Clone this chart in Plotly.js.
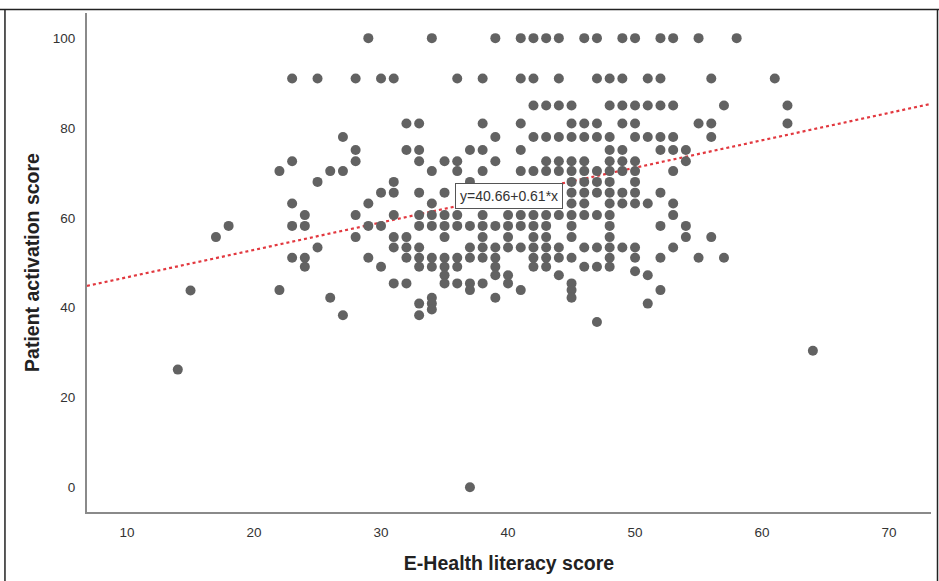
<!DOCTYPE html>
<html>
<head>
<meta charset="utf-8">
<script src="https://cdn.plot.ly/plotly-3.0.1.min.js"></script>
<style>
  html, body { margin: 0; padding: 0; background: #fff; }
  #chart { width: 939px; height: 581px; }
</style>
</head>
<body>
<div id="chart"></div>
<script>
// E-Health literacy score (x) for each respondent
const eHealthLiteracy = [
  14, 15, 17, 18,
  22, 22,
  23, 23, 23, 23, 23,
  24, 24, 24, 24,
  25, 25, 25,
  26, 26,
  27, 27, 27,
  28, 28, 28, 28, 28,
  29, 29, 29, 29,
  30, 30, 30, 30,
  31, 31, 31, 31, 31, 31, 31,
  32, 32, 32, 32, 32, 32,
  33, 33, 33, 33, 33, 33, 33, 33, 33, 33, 33,
  34, 34, 34, 34, 34, 34, 34, 34, 34, 34,
  35, 35, 35, 35, 35, 35, 35, 35, 35,
  36, 36, 36, 36, 36, 36, 36, 36,
  37, 37, 37, 37, 37, 37, 37, 37,
  38, 38, 38, 38, 38, 38, 38, 38, 38, 38,
  39, 39, 39, 39, 39, 39, 39, 39, 39,
  40, 40, 40, 40, 40, 40,
  41, 41, 41, 41, 41, 41, 41, 41, 41,
  42, 42, 42, 42, 42, 42, 42, 42, 42, 42, 42,
  43, 43, 43, 43, 43, 43, 43, 43, 43, 43, 43,
  44, 44, 44, 44, 44, 44, 44, 44, 44, 44,
  45, 45, 45, 45, 45, 45, 45, 45, 45, 45, 45, 45, 45, 45, 45,
  46, 46, 46, 46, 46, 46, 46, 46, 46, 46, 46,
  47, 47, 47, 47, 47, 47, 47, 47, 47, 47, 47,
  48, 48, 48, 48, 48, 48, 48, 48, 48, 48, 48, 48, 48, 48, 48,
  49, 49, 49, 49, 49, 49, 49, 49, 49, 49,
  50, 50, 50, 50, 50, 50, 50, 50, 50, 50, 50, 50,
  51, 51, 51, 51, 51, 51,
  52, 52, 52, 52, 52, 52, 52, 52, 52,
  53, 53, 53, 53, 53, 53, 53, 53,
  54, 54, 54, 54,
  55, 55, 55,
  56, 56, 56, 56,
  57, 57,
  58,
  61,
  62, 62,
  64
];

// Patient activation score (y) for each respondent, same order
const patientActivation = [
  26.2, 43.8, 55.7, 58.2,
  70.4, 43.9,
  91, 72.6, 63.2, 58.2, 51.1,
  60.6, 58.2, 51.1, 49.1,
  91, 68, 53.4,
  70.4, 42.2,
  78, 70.4, 38.3,
  91, 75.1, 72.6, 60.6, 55.7,
  100, 63.2, 58.2, 51.1,
  91, 65.6, 58.2, 49.1,
  91, 68, 65.6, 60.6, 55.7, 53.4, 45.4,
  81, 75.1, 55.7, 53.4, 51.1, 45.4,
  81, 75.1, 72.6, 65.6, 60.6, 58.2, 53.4, 51.1, 49.1, 40.9, 38.3,
  100, 70.4, 63.2, 60.6, 58.2, 51.1, 49.1, 42.2, 40.9, 39.6,
  72.6, 65.6, 60.6, 58.2, 55.7, 51.1, 49.1, 47.2, 45.4,
  91, 72.6, 70.4, 60.6, 58.2, 51.1, 49.1, 45.4,
  75.1, 68, 58.2, 53.4, 51.1, 45.4, 43.9, 0,
  91, 81, 75.1, 70.4, 60.6, 58.2, 55.7, 53.4, 51.1, 45.4,
  100, 78, 72.6, 58.2, 53.4, 51.1, 49.1, 47.2, 42.2,
  60.6, 58.2, 55.7, 53.4, 47.2, 45.4,
  100, 91, 81, 75.1, 70.4, 60.6, 58.2, 53.4, 43.9,
  100, 91, 85, 78, 70.4, 60.6, 58.2, 55.7, 53.4, 51.1, 49.1,
  100, 85, 78, 72.6, 70.4, 60.6, 58.2, 55.7, 53.4, 51.1, 49.1,
  100, 91, 85, 78, 72.6, 70.4, 60.6, 53.4, 51.1, 47.2,
  85, 81, 78, 72.6, 70.4, 68, 65.6, 63.2, 60.6, 58.2, 55.7, 51.1, 45.4, 43.9, 42.2,
  100, 81, 78, 72.6, 70.4, 68, 65.6, 63.2, 60.6, 53.4, 49.1,
  100, 91, 81, 78, 70.4, 68, 65.6, 60.6, 53.4, 49.1, 36.8,
  91, 85, 78, 75.1, 72.6, 70.4, 68, 65.6, 63.2, 60.6, 58.2, 55.7, 53.4, 51.1, 49.1,
  100, 91, 85, 81, 75.1, 72.6, 70.4, 65.6, 63.2, 53.4,
  100, 85, 81, 78, 72.6, 70.4, 68, 65.6, 63.2, 53.4, 51.1, 48.1,
  91, 85, 78, 63.2, 47.2, 40.9,
  100, 91, 85, 78, 75.1, 65.6, 58.2, 51.1, 43.9,
  100, 85, 78, 75.1, 70.4, 63.2, 60.6, 53.4,
  75.1, 72.6, 58.2, 55.7,
  100, 81, 51.1,
  91, 81, 78, 55.7,
  85, 51.1,
  100,
  91,
  85, 81,
  30.4
];

// Fitted regression line (as printed on the chart)
const fitIntercept = 40.66;
const fitSlope = 0.61;
const fitLabel = 'y=40.66+0.61*x';

const xTicks = [10, 20, 30, 40, 50, 60, 70];
const yTicks = [0, 20, 40, 60, 80, 100];
const xRange = [6.85, 73.3];
const yRange = [-5.5, 105.6];

const fitX = xRange.slice();
const fitY = fitX.map(v => fitIntercept + fitSlope * v);

const font = 'Liberation Sans, Arial, sans-serif';

const traces = [
  {
    x: fitX, y: fitY, type: 'scatter', mode: 'lines',
    line: { color: '#e2383f', width: 2.2, dash: 'dot' },
    hoverinfo: 'skip', showlegend: false
  },
  {
    x: eHealthLiteracy, y: patientActivation, type: 'scatter', mode: 'markers',
    marker: { color: '#626262', size: 10, line: { width: 0 } },
    showlegend: false
  }
];

const layout = {
  width: 939, height: 581,
  margin: { l: 87, r: 8, t: 13, b: 69 },
  paper_bgcolor: '#ffffff', plot_bgcolor: '#ffffff',
  showlegend: false,
  font: { family: font, color: '#333333' },
  xaxis: {
    range: xRange, tickvals: xTicks, ticktext: xTicks.map(String),
    showgrid: false, zeroline: false,
    showline: true, linecolor: '#8a8a8a', linewidth: 2,
    ticks: 'outside', ticklen: 7, tickcolor: 'rgba(0,0,0,0)',
    tickfont: { family: font, size: 13.5, color: '#333333' },
    title: { text: 'E-Health literacy score', standoff: 17,
             font: { family: font, size: 19.5, color: '#222222', weight: 'bold' } }
  },
  yaxis: {
    range: yRange, tickvals: yTicks, ticktext: yTicks.map(String),
    showgrid: false, zeroline: false,
    showline: true, linecolor: '#8a8a8a', linewidth: 2,
    ticks: 'outside', ticklen: 7, tickcolor: 'rgba(0,0,0,0)',
    tickfont: { family: font, size: 13.5, color: '#333333' },
    title: { text: 'Patient activation score', standoff: 8,
             font: { family: font, size: 19.5, color: '#222222', weight: 'bold' } }
  },
  annotations: [{
    x: 40.1, y: 64.8, xref: 'x', yref: 'y',
    text: fitLabel, showarrow: false,
    font: { family: font, size: 14, color: '#333333' },
    bgcolor: '#ffffff', bordercolor: '#555555', borderwidth: 1, borderpad: 4
  }],
  shapes: [
    { type: 'line', xref: 'paper', yref: 'paper', x0: -0.105, x1: 1.0095, y0: 1.007, y1: 1.007,
      line: { color: '#222222', width: 1.5 } },
    { type: 'line', xref: 'paper', yref: 'paper', x0: -0.0972, x1: -0.0972, y0: 1.007, y1: -0.15,
      line: { color: '#222222', width: 1.5 } },
    { type: 'line', xref: 'paper', yref: 'paper', x0: 1.0077, x1: 1.0077, y0: 1.007, y1: -0.15,
      line: { color: '#222222', width: 1.5 } }
  ]
};

Plotly.newPlot('chart', traces, layout, { displayModeBar: false, staticPlot: true });
</script>
</body>
</html>
